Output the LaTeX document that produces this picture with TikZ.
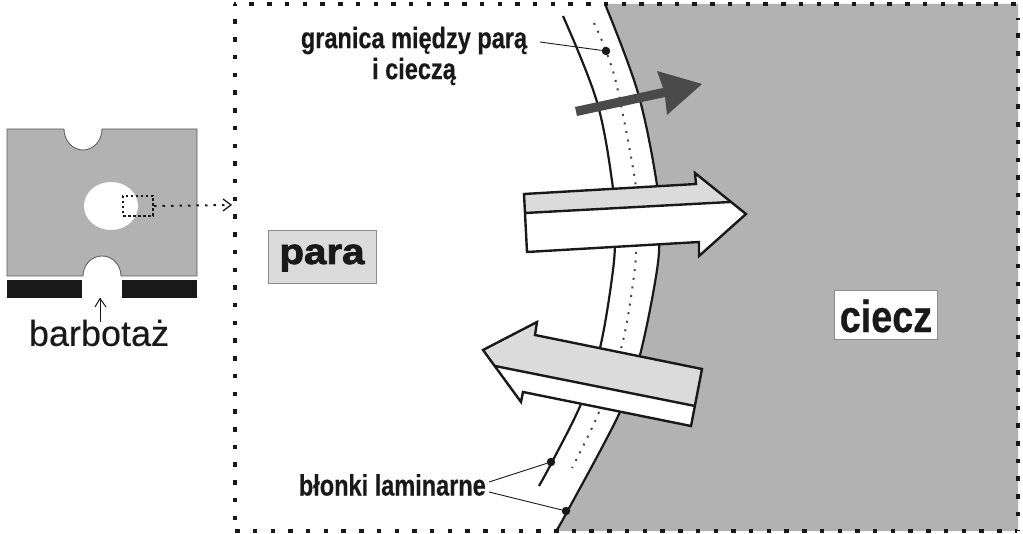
\documentclass[tikz,border=0pt]{standalone}
\usepackage{fontspec}
\setmainfont{Liberation Sans}
\newfontfamily\barbf[FakeBold=0.25]{Liberation Sans}
\newfontfamily\narrowb[FakeStretch=0.8,FakeBold=0.4]{Liberation Sans Bold}
\newfontfamily\cieczf[FakeStretch=0.84,FakeBold=0.5]{Liberation Sans Bold}
\newfontfamily\heavyb[FakeStretch=1.12,FakeBold=2.2]{Liberation Sans Bold}
\definecolor{liq}{gray}{0.70}
\definecolor{pale}{gray}{0.86}
\definecolor{ink}{gray}{0.1}
\definecolor{darkar}{gray}{0.29}
\tikzset{
  filmline/.style={draw=ink,line width=2.2pt},
  bigarrow/.style={draw=ink,line width=2.4pt,line join=miter},
  leader/.style={draw=ink,line width=0.9pt},
  dotmark/.style={circle,fill=ink,inner sep=0pt,minimum size=8.5pt},
  framedots/.style={draw=ink,line width=4.5pt,dash pattern=on 4.5pt off 13.22pt,dash phase=2.25pt},
  smalltext/.style={font=\narrowb\fontsize{29.4}{33}\selectfont,text=ink,align=center,inner sep=0pt}
}
\begin{document}
\begin{tikzpicture}[x=1pt,y=-1pt]
\useasboundingbox (0,0) rectangle (1023,534);
% liquid
\fill[liq] (605,4) plot[smooth,tension=0.6] coordinates {(605,4) (638,93) (657,185) (659,228) (657,270) (640,355) (620,412) (567,512) (556,531)} -- (1018,531) -- (1018,4) -- cycle;
% films
\draw[filmline] plot[smooth,tension=0.6] coordinates {(605,4) (638,93) (657,185) (659,228) (657,270) (640,355) (620,412) (567,512) (556,531)};
\draw[filmline] plot[smooth,tension=0.6] coordinates {(563,16) (597,102) (613,188) (615,228) (613,270) (600,348) (581,404) (552,462) (539,486)};
\draw[draw=ink!80,line width=2pt,dash pattern=on 2pt off 6.7pt] plot[smooth,tension=0.6] coordinates {(594,23) (606,51) (618,91) (636,187) (637,230) (634,275) (622,345) (599,412) (572,468)};
% frame
\draw[framedots] (234,4) -- (1018,4);
\draw[framedots] (1018,18) -- (1018,531);
\draw[framedots] (1017,531) -- (234,531);
\draw[framedots] (235,4) -- (235,531);
% dark arrow
\fill[darkar] (575,107) -- (663,88) -- (657,71) -- (702,84) -- (667,115) -- (665,97) -- (577,116) -- cycle;
% right arrow
\fill[white] (524,213) -- (730,202) -- (746,214) -- (699,256) -- (699,242) -- (527,252) -- cycle;
\fill[pale] (524,194) -- (696,184) -- (695,173) -- (730,202) -- (525,213) -- cycle;
\draw[bigarrow] (524,194) -- (696,184) -- (695,173) -- (746,214) -- (699,256) -- (699,242) -- (527,252) -- cycle;
\draw[bigarrow] (525,213) -- (730,202);
% left arrow
\fill[white] (495,366) -- (695,406) -- (691,426) -- (523,392) -- (521,402) -- cycle;
\fill[pale] (483,350) -- (537,322) -- (535,335) -- (702,369) -- (695,406) -- (495,366) -- cycle;
\draw[bigarrow] (483,350) -- (537,322) -- (535,335) -- (702,369) -- (691,426) -- (523,392) -- (521,402) -- cycle;
\draw[bigarrow] (495,366) -- (695,406);
% left block
\fill[liq,draw=black!65,line width=0.8pt] (7,129) -- (64,129) arc[start angle=180,end angle=0,x radius=19,y radius=21] -- (197,129) -- (197,276) -- (121,276) arc[start angle=0,end angle=-180,x radius=19,y radius=20] -- (7,276) -- cycle;
\fill[white] (111,206) ellipse[x radius=27,y radius=24];
\fill[ink] (7,280) rectangle (82,298);
\fill[ink] (122,280) rectangle (197,298);
\node[rectangle,draw=ink,line width=2pt,dash pattern=on 2.5pt off 2.5pt,minimum width=30pt,minimum height=20pt,inner sep=0pt] (win) at (138,206) {};
\coordinate (frameL) at (231,205);
\draw[draw=ink,line width=2pt,dash pattern=on 2.5pt off 6pt] (win.east) -- (frameL);
\draw[draw=ink,line width=1.3pt] (223,199) -- (231,205) -- (223,211);
% labels
\node[font=\barbf\fontsize{36}{40}\selectfont,text=ink,inner sep=0pt] (barb) at (99,333) {barbotaż};
\coordinate (barbtip) at (100,298.5);
\draw[draw=ink,line width=1pt] (100,322) -- (barbtip);
\draw[draw=ink,line width=1pt] (95,307) -- (barbtip) -- (106,307);
\node[rectangle,fill=pale,draw=black!45,line width=0.8pt,minimum width=108pt,minimum height=53pt,inner sep=0pt] (para) at (322,256.5) {};
\node[font=\heavyb\fontsize{36}{40}\selectfont,text=ink,inner sep=0pt] (paratxt) at (322,258) {para};
\node[rectangle,fill=white,draw=black!45,line width=0.8pt,minimum width=103pt,minimum height=49pt,inner sep=0pt] (cieczbox) at (885.5,314.5) {};
\node[font=\cieczf\fontsize{45}{48}\selectfont,text=ink,inner sep=0pt] (cieczt) at (886,316) {ciecz};
\node[smalltext] (gr) at (414,56) {granica między parą\\[-2pt]i ciecz\k{a}};
\node[dotmark] (d1) at (606,51) {};
\node[dotmark] (d2) at (551,462) {};
\node[dotmark] (d3) at (566,511) {};
\coordinate (gre) at (540,42);
\coordinate (bl1) at (489,482);
\coordinate (bl2) at (489,492);
\draw[leader] (gre) -- (d1);
\draw[leader] (bl1) -- (d2);
\draw[leader] (bl2) -- (d3);
\node[smalltext,anchor=east] (bl) at (486,485) {błonki laminarne};
\end{tikzpicture}
\end{document}
